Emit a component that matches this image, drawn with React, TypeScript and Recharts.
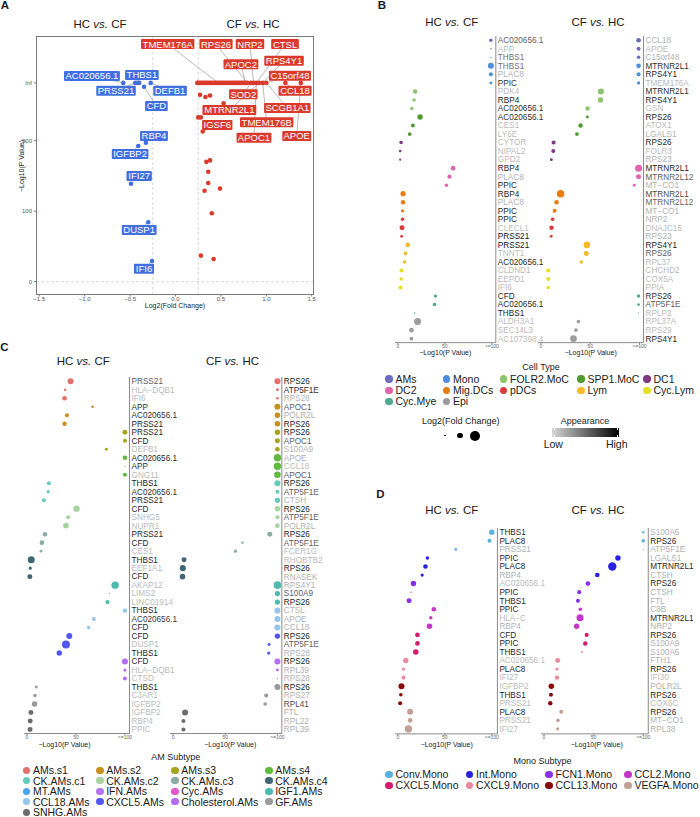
import React from 'react'
import { ScatterChart, Scatter, XAxis, YAxis, ZAxis, Cell, ReferenceLine } from 'recharts'

const FONT = '"Liberation Sans", Arial, Helvetica, sans-serif'
const I = Infinity

// ---------- Panel A: volcano ----------
const A_BLUE_FC = [-0.575, -0.443, -0.42, -0.4, -0.273, -0.347, -0.326, -0.41, -0.49, -0.3, -0.259]
const A_BLUE_P = [I, I, I, I, I, 276.6, 197.2, 192.5, 139, 84.3, 29.4]

const A_RED_FC = [
  0.24, 0.25, 0.27, 0.29, 0.31, 0.33, 0.35, 0.37, 0.39, 0.41, 0.43, 0.45, 0.47, 0.49, 0.51, 0.53, 0.55, 0.57,
  0.59, 0.61, 0.63, 0.65, 0.67, 0.69, 0.71, 0.73, 0.75, 0.77, 0.79, 0.83, 0.86, 0.89, 0.92, 0.96, 1.0, 1.21, 1.38,
  0.27, 0.33, 0.38, 0.53, 0.25, 0.28, 0.3, 0.34, 0.38, 0.36, 0.36, 0.32, 0.49, 0.4, 0.28, 0.42,
]
const A_RED_P = [
  I, I, I, I, I, I, I, I, I, I, I, I, I, I, I, I, I, I, I, I, I, I, I, I, I, I, I, I, I, I, I, I, I, I, I, I, I,
  265, 262, 264, 253, 233, 233, 213, 170, 172, 156, 140, 129, 132, 97, 37, 32,
]

// gene, side, index of the point it tags, label position (data units)
const A_LABELS: [string, 'b' | 'r', number, number, number][] = [
  ['AC020656.1', 'b', 0, -0.92, 291.8],
  ['THBS1', 'b', 2, -0.37, 293.2],
  ['PRSS21', 'b', 1, -0.655, 270.9],
  ['DEFB1', 'b', 4, -0.06, 270.9],
  ['CFD', 'b', 5, -0.21, 249.2],
  ['RBP4', 'b', 6, -0.237, 206.7],
  ['IGFBP2', 'b', 7, -0.5, 181],
  ['IFI27', 'b', 8, -0.4, 150],
  ['DUSP1', 'b', 9, -0.4, 73.3],
  ['IFI6', 'b', 10, -0.347, 18.4],
  ['TMEM176A', 'r', 12, -0.086, 337],
  ['RPS26', 'r', 28, 0.446, 337],
  ['NRP2', 'r', 30, 0.82, 337],
  ['CTSL', 'r', 31, 1.206, 337],
  ['APOC2', 'r', 27, 0.72, 308.5],
  ['RPS4Y1', 'r', 33, 1.195, 313.5],
  ['C15orf48', 'r', 34, 1.26, 292.2],
  ['SOD2', 'r', 29, 0.747, 265.8],
  ['CCL18', 'r', 35, 1.316, 270.9],
  ['MTRNR2L1', 'r', 32, 0.593, 243.5],
  ['SCGB1A1', 'r', 34, 1.231, 246.4],
  ['IGSF6', 'r', 43, 0.46, 222.3],
  ['TMEM176B', 'r', 33, 1.004, 226],
  ['APOC1', 'r', 31, 0.864, 204.3],
  ['APOE', 'r', 36, 1.335, 206.7],
]

// ---------- Panel B: cell types ----------
const B_TYPES = ['AMs', 'Mono', 'FOLR2.MoC', 'SPP1.MoC', 'DC1', 'DC2', 'Mig.DCs', 'pDCs', 'Lym', 'Cyc.Lym', 'Cyc.Mye', 'Epi']
const B_COLORS = ['#6b6cc0', '#4d8fdb', '#8dc56c', '#4e9a2f', '#7d3a7e', '#e063b0', '#e57d14', '#d83c3c', '#f3bb2a', '#e4df22', '#4fa98c', '#9c9c9c']

const B_HC_GENES = ['AC020656.1', 'APP', 'THBS1', 'THBS1', 'PLAC8', 'PPIC', 'PDK4', 'RBP4', 'AC020656.1', 'AC020656.1', 'CES1', 'LY6E', 'CYTOR', 'NIPAL2', 'GPD2', 'RBP4', 'PLAC8', 'PPIC', 'RBP4', 'PLAC8', 'PPIC', 'PPIC', 'CLECL1', 'PRSS21', 'PRSS21', 'TNNT1', 'AC020656.1', 'CLDND1', 'EEPD1', 'IFI6', 'CFD', 'AC020656.1', 'THBS1', 'ALDH3A1', 'SEC14L3', 'AC107398.4']
const B_HC_P = [99, 99, 99, 99, 99, 99, 18.4, 17.3, 14.9, 23.7, 16, 12.7, 3.5, 2.5, 2.5, 58.8, 55, 51.7, 5.6, 5.6, 5, 5, 4.5, 4, 10.6, 8.2, 7.2, 3.9, 3.6, 2.8, 40, 39, 18, 21, 14.5, 14.5]
const B_HC_FC = [0.43, 0.26, 0.26, 0.86, 0.51, 0.38, 0.57, 0.43, 0.43, 0.74, 0.48, 0.48, 0.45, 0.35, 0.3, 0.6, 0.53, 0.43, 0.7, 0.6, 0.41, 0.43, 0.66, 0.38, 0.6, 0.48, 0.43, 0.51, 0.43, 0.51, 0.41, 0.45, 0.27, 1.08, 0.6, 0.48]
const B_HC_APP = [0.6, 0.1, 0.5, 0.5, 0.15, 0.85, 0.1, 0.9, 0.85, 0.85, 0.1, 0.1, 0.1, 0.1, 0.1, 0.9, 0.15, 0.9, 0.9, 0.15, 0.9, 0.9, 0.1, 1, 1, 0.1, 0.9, 0.1, 0.1, 0.1, 0.9, 0.9, 0.9, 0.1, 0.1, 0.1]

const B_CF_GENES = ['CCL18', 'APOE', 'C15orf48', 'MTRNR2L1', 'RPS4Y1', 'TMEM176A', 'MTRNR2L1', 'RPS4Y1', 'GSN', 'RPS26', 'ATOX1', 'LGALS1', 'RPS26', 'FOLR3', 'RPS23', 'MTRNR2L1', 'MTRNR2L12', 'MT\u2212CO1', 'MTRNR2L1', 'MTRNR2L12', 'MT\u2212CO1', 'NRP2', 'DNAJC15', 'RPS23', 'RPS4Y1', 'RPS26', 'RPL37', 'CHCHD2', 'COX5A', 'PPIA', 'RPS26', 'ATP5F1E', 'RPLP2', 'RPL37A', 'RPS29', 'RPS4Y1']
const B_CF_P = [99, 99, 99, 99, 99, 99, 60.8, 60.5, 47.3, 47, 40.2, 36.5, 12.8, 12.5, 10.5, 99, 99, 94.6, 19.9, 15.8, 13.8, 11.8, 10.7, 10.4, 46.6, 46, 40.9, 7.4, 7.4, 7.4, 99, 99, 99, 38, 35.5, 33]
const B_CF_FC = [0.6, 0.51, 0.45, 0.6, 0.51, 0.41, 0.86, 0.7, 0.57, 0.38, 0.57, 0.48, 0.51, 0.51, 0.38, 1.08, 0.66, 0.38, 1.23, 0.6, 0.51, 0.45, 0.57, 0.38, 0.99, 0.66, 0.43, 0.51, 0.51, 0.45, 0.43, 0.36, 0.25, 0.45, 0.45, 0.99]
const B_CF_APP = [0.15, 0.1, 0.15, 0.85, 0.9, 0.1, 0.85, 0.9, 0.1, 0.9, 0.1, 0.15, 0.9, 0.1, 0.15, 0.9, 0.6, 0.15, 0.7, 0.55, 0.15, 0.15, 0.1, 0.15, 0.95, 0.6, 0.1, 0.1, 0.1, 0.1, 0.85, 0.6, 0.1, 0.1, 0.1, 0.9]

// ---------- Panel C: AM subtypes ----------
const C_LEGEND = ['AMs.s1', 'AMs.s2', 'AMs.s3', 'AMs.s4', 'CK.AMs.c1', 'CK.AMs.c2', 'CK.AMs.c3', 'CK.AMs.c4', 'MT.AMs', 'IFN.AMs', 'Cyc.AMs', 'IGF1.AMs', 'CCL18.AMs', 'CXCL5.AMs', 'Cholesterol.AMs', 'GF.AMs', 'SNHG.AMs']
const C_LEGEND_COLORS = ['#e3706b', '#c8911e', '#a7a51d', '#5fba3d', '#66ccba', '#a6d3a0', '#88aca3', '#3f6674', '#4ea3f0', '#b473f0', '#e356c8', '#4fbab0', '#93c6ea', '#5357f0', '#b56df2', '#9a9a9a', '#6b6b6b']
const C_GROUPS = ['AMs.s1', 'AMs.s2', 'AMs.s3', 'AMs.s4', 'CK.AMs.c1', 'CK.AMs.c2', 'CK.AMs.c3', 'CK.AMs.c4', 'IGF1.AMs', 'CCL18.AMs', 'CXCL5.AMs', 'Cholesterol.AMs', 'GF.AMs', 'SNHG.AMs']

const C_HC_GENES = ['PRSS21', 'HLA\u2212DQB1', 'IFI6', 'APP', 'AC020656.1', 'PRSS21', 'PRSS21', 'CFD', 'DEFB1', 'AC020656.1', 'APP', 'GNG11', 'THBS1', 'AC020656.1', 'PRSS21', 'CFD', 'SNHG5', 'NUPR1', 'PRSS21', 'CFD', 'CES1', 'THBS1', 'EEF1A1', 'CFD', 'AKAP12', 'LIMS2', 'LINC01914', 'THBS1', 'AC020656.1', 'CFD', 'CFD', 'DUSP1', 'THBS1', 'CFD', 'HLA\u2212DQB1', 'CTSD', 'THBS1', 'C3AR1', 'IGFBP2', 'IGFBP2', 'RBP4', 'PPIC']
const C_HC_P = [44.5, 39, 38.4, 67, 40.8, 38.4, 100, 100, 81, 100, 100, 100, 22.4, 21.7, 17.3, 50.6, 42.1, 39.8, 18.4, 15.3, 14.3, 4.4, 3.4, 3, 90, 84.3, 82.2, 100, 68.3, 62.9, 43.2, 39.8, 33, 100, 100, 100, 9.5, 8.2, 7.8, 4.1, 3.4, 3.2]
const C_HC_FC = [0.86, 0.33, 0.6, 0.35, 0.51, 0.57, 0.66, 0.51, 0.38, 0.6, 0.25, 0.51, 0.51, 0.41, 0.51, 0.94, 0.51, 0.77, 0.57, 0.6, 0.36, 1.08, 0.41, 0.66, 1.18, 0.25, 0.51, 0.57, 0.51, 0.45, 0.86, 1.34, 0.74, 0.86, 0.41, 0.51, 0.38, 0.45, 0.74, 0.66, 0.66, 0.66]
const C_HC_APP = [0.6, 0.1, 0.1, 0.85, 0.85, 0.9, 0.9, 0.9, 0.1, 0.9, 0.85, 0.1, 0.9, 0.85, 0.9, 0.9, 0.1, 0.1, 0.9, 0.9, 0.1, 0.9, 0.1, 0.9, 0.1, 0.1, 0.1, 0.9, 0.8, 0.9, 0.9, 0.1, 0.9, 0.9, 0.1, 0.1, 0.9, 0.1, 0.1, 0.1, 0.1, 0.1]

const C_CF_GENES = ['RPS26', 'ATP5F1E', 'RPS28', 'APOC1', 'POLR2L', 'RPS26', 'RPS26', 'APOC1', 'S100A9', 'APOE', 'CCL18', 'APOC1', 'RPS26', 'ATP5F1E', 'CTSH', 'RPS26', 'ATP5F1E', 'POLR2L', 'RPS26', 'ATP5F1E', 'FCER1G', 'RHOBTB2', 'RPS26', 'RNASEK', 'RPS4Y1', 'S100A9', 'RPS26', 'CTSL', 'APOE', 'CCL18', 'RPS26', 'ATP5F1E', 'RPS28', 'RPS26', 'RPL39', 'RPS28', 'RPS26', 'RPS27', 'RPL41', 'FTL', 'RPL22', 'RPL39']
const C_CF_P = [100, 100, 100, 100, 100, 100, 100, 100, 100, 100, 100, 100, 100, 100, 100, 100, 100, 100, 92.7, 66.5, 59.7, 10.5, 9.3, 9, 100, 100, 100, 100, 100, 100, 100, 92, 91.7, 100, 100, 100, 100, 89.2, 88.2, 11.5, 9.9, 9.9]
const C_CF_FC = [0.86, 0.38, 0.35, 0.86, 0.77, 0.77, 0.74, 0.66, 0.6, 1.18, 1.18, 0.99, 0.86, 0.51, 0.74, 0.74, 0.51, 0.6, 0.66, 0.33, 0.41, 0.66, 0.86, 0.77, 1.23, 0.7, 0.7, 0.86, 0.86, 0.86, 0.74, 0.38, 0.41, 0.86, 0.38, 0.25, 0.86, 0.51, 0.45, 0.86, 0.51, 0.51]
const C_CF_APP = [0.95, 0.85, 0.15, 0.6, 0.15, 0.95, 0.95, 0.6, 0.15, 0.15, 0.1, 0.6, 0.95, 0.6, 0.15, 0.95, 0.6, 0.15, 0.95, 0.6, 0.1, 0.1, 0.95, 0.15, 0.15, 0.6, 0.95, 0.15, 0.15, 0.15, 0.95, 0.6, 0.15, 0.95, 0.15, 0.15, 0.95, 0.15, 0.7, 0.15, 0.15, 0.15]

// ---------- Panel D: Mono subtypes ----------
const D_TYPES = ['Conv.Mono', 'Int.Mono', 'FCN1.Mono', 'CCL2.Mono', 'CXCL5.Mono', 'CXCL9.Mono', 'CCL13.Mono', 'VEGFA.Mono']
const D_COLORS = ['#5cb2df', '#2a20df', '#8632e4', '#c435c9', '#d31c6c', '#ea8aa0', '#870b0b', '#c1a096']

const D_HC_GENES = ['THBS1', 'PLAC8', 'PRSS21', 'PPIC', 'PLAC8', 'RBP4', 'AC020656.1', 'PPIC', 'THBS1', 'PPIC', 'HLA\u2212C', 'RBP4', 'CFD', 'PPIC', 'THBS1', 'AC020656.1', 'PLAC8', 'IFI27', 'IGFBP2', 'THBS1', 'PRSS21', 'PLAC8', 'PRSS21', 'IFI27']
const D_HC_P = [100, 97.5, 61.7, 31.5, 29.4, 25.9, 16.6, 14.1, 12, 38.3, 35.1, 33.7, 20.9, 20.9, 19.1, 8.5, 6, 6, 3.9, 3.2, 2.5, 13.1, 13.1, 11.3]
const D_HC_FC = [0.74, 0.51, 0.38, 0.43, 0.6, 0.41, 0.74, 0.26, 0.66, 0.6, 0.43, 0.77, 0.6, 0.6, 0.77, 0.74, 0.41, 0.51, 0.86, 0.45, 0.51, 0.86, 0.6, 1.18]
const D_HC_APP = [0.9, 0.9, 0.15, 0.9, 0.9, 0.15, 0.1, 0.9, 0.9, 0.9, 0.1, 0.15, 0.9, 0.9, 0.9, 0.1, 0.9, 0.1, 0.1, 0.9, 0.1, 0.9, 0.1, 0.1]

const D_CF_GENES = ['S100A6', 'RPS26', 'ATP5F1E', 'LGALS1', 'MTRNR2L1', 'CTSH', 'RPS26', 'CTSH', 'FTL', 'C8B', 'MTRNR2L1', 'NRP2', 'RPS26', 'S100A9', 'S100A6', 'FTH1', 'RPS26', 'IFI30', 'POLR2L', 'RPS26', 'COX6C', 'RPS26', 'MT\u2212CO1', 'RPL38']
const D_CF_P = [100, 100, 100, 74.5, 68.8, 53.7, 44.3, 35.5, 34.2, 36.6, 36.3, 32.9, 43, 41.6, 38.3, 13.8, 13.1, 13.1, 7.4, 7, 6.3, 17.4, 14.1, 13.8]
const D_CF_FC = [0.33, 0.45, 0.25, 0.74, 1.46, 0.6, 0.6, 0.51, 0.51, 0.45, 1.08, 0.74, 0.51, 0.57, 0.27, 0.66, 0.41, 0.57, 0.77, 0.51, 0.57, 0.51, 0.45, 0.41]
const D_CF_APP = [0.15, 0.9, 0.15, 0.15, 0.9, 0.15, 0.9, 0.15, 0.15, 0.15, 0.9, 0.15, 0.9, 0.15, 0.15, 0.15, 0.9, 0.1, 0.15, 0.9, 0.1, 0.9, 0.15, 0.15]

// ---------- helpers ----------
const A_INF_Y = 282 // row where ggplot put the Inf p-values
const toY = (p: number) => (Number.isFinite(p) ? p : A_INF_Y)
const BLUE = '#416fe0'
const RED = '#d93a2c'

function grey(a: number) {
  const v = Math.round(205 - a * 185)
  return `rgb(${v},${v},${v})`
}

function textW(s: string, fs: number) {
  let w = 0
  for (const ch of s) {
    if (/[0-9]/.test(ch)) w += 0.556
    else if (ch === '.') w += 0.278
    else if ('MW'.includes(ch)) w += 0.85
    else if ('IJ'.includes(ch)) w += 0.32
    else if ('CDHNRUGOQ'.includes(ch)) w += 0.73
    else if ('FTLZ'.includes(ch)) w += 0.6
    else if (/[A-Z]/.test(ch)) w += 0.667
    else if ('fr'.includes(ch)) w += 0.3
    else if ('il'.includes(ch)) w += 0.222
    else w += 0.556
  }
  return w * fs
}

function Txt({ x, y, size, children, anchor = 'middle', color = '#1a1a1a', bold = false, rotate = 0 }: any) {
  const tx = anchor === 'middle' ? '-50%' : anchor === 'end' ? '-100%' : '0'
  return (
    <div
      style={{
        position: 'absolute', left: x, top: y, fontSize: size, color, lineHeight: 1, whiteSpace: 'nowrap',
        fontWeight: bold ? 700 : 400,
        transform: `translate(${tx}, -50%)` + (rotate ? ` rotate(${rotate}deg)` : ''),
        transformOrigin: rotate ? '50% 50%' : undefined,
      }}
    >
      {children}
    </div>
  )
}

const Vs = ({ a, b }: { a: string; b: string }) => (
  <>
    {a} <i>vs.</i> {b}
  </>
)

function LegendDot({ x, y, color, label, r = 3.7, size = 10.5, gap = 6.5 }: any) {
  return (
    <>
      <div style={{ position: 'absolute', left: x - r, top: y - r, width: 2 * r, height: 2 * r, borderRadius: '50%', background: color }} />
      <Txt x={x + gap} y={y} size={size} anchor="start">{label}</Txt>
    </>
  )
}

function LabelBox(props: any) {
  const { cx, cy, payload } = props
  if (cx == null) return <g />
  const fs = 9.5
  const w = textW(payload.text, fs) + 3
  return (
    <g>
      <rect x={cx - w / 2} y={cy - 5} width={w} height={10} rx={1} fill={payload.side === 'b' ? BLUE : RED} />
      <text x={cx} y={cy} dy="0.36em" textAnchor="middle" fontSize={fs} fill="#fff" fontFamily={FONT}>
        {payload.text}
      </text>
    </g>
  )
}

const Nothing = () => <g />
const VolcanoDot = (color: string) => (p: any) => <circle cx={p.cx} cy={p.cy} r={2.3} fill={color} />

function Volcano() {
  const blue = A_BLUE_FC.map((x, i) => ({ x, y: toY(A_BLUE_P[i]) }))
  const red = A_RED_FC.map((x, i) => ({ x, y: toY(A_RED_P[i]) }))
  const labels = A_LABELS.map(([text, side, , lx, ly]) => ({ x: lx, y: ly, text, side }))
  const fmt = (v: number) => (v < 0 ? '\u2212' + Math.abs(v).toFixed(1) : v.toFixed(1))
  return (
    <div style={{ position: 'absolute', left: 0, top: 0 }}>
      <ScatterChart width={330} height={320} margin={{ top: 36, left: 14, right: 16, bottom: 13 }}>
        <XAxis type="number" dataKey="x" domain={[-1.536, 1.525]} allowDataOverflow ticks={[-1.5, -1, -0.5, 0, 0.5, 1, 1.5]}
          tickFormatter={fmt} tick={{ fontSize: 6, fill: '#555' }} tickSize={1.5} tickMargin={0.5} height={12}
          axisLine={false} tickLine={{ stroke: '#777' }} />
        <YAxis type="number" dataKey="y" domain={[-18.9, 348.5]} allowDataOverflow ticks={[0, 100, 200, A_INF_Y]}
          tickFormatter={(v: number) => (v === A_INF_Y ? 'Inf' : String(v))} tick={{ fontSize: 6, fill: '#555' }}
          tickSize={2} tickMargin={2} width={22} axisLine={false} tickLine={{ stroke: '#777' }} />
        <ReferenceLine x={-0.25} stroke="#cfcfcf" strokeDasharray="3 2" strokeWidth={0.8} />
        <ReferenceLine x={0.25} stroke="#cfcfcf" strokeDasharray="3 2" strokeWidth={0.8} />
        <ReferenceLine y={0} stroke="#cfcfcf" strokeDasharray="3 2" strokeWidth={0.8} />
        {A_LABELS.map(([text, side, at, lx, ly], i) => {
          const px = side === 'b' ? A_BLUE_FC[at] : A_RED_FC[at]
          const py = toY(side === 'b' ? A_BLUE_P[at] : A_RED_P[at])
          return (
            <Scatter key={'c' + i} data={[{ x: px, y: py }, { x: lx, y: ly }]} line={{ stroke: '#a8a8a8', strokeWidth: 0.8 }}
              lineType="joint" shape={Nothing} isAnimationActive={false} />
          )
        })}
        <Scatter data={blue} fill={BLUE} shape={VolcanoDot(BLUE)} isAnimationActive={false} />
        <Scatter data={red} fill={RED} shape={VolcanoDot(RED)} isAnimationActive={false} />
        <Scatter data={labels} shape={LabelBox} isAnimationActive={false} />
      </ScatterChart>
      <div style={{ position: 'absolute', left: 36, top: 36, width: 278, height: 259, border: '1px solid #7a7a7a', boxSizing: 'border-box', pointerEvents: 'none' }} />
    </div>
  )
}

type Geo = { zero: number; unit: number; axis: number; row1: number; step: number; bottom: number }

function DotPanel({ geo, genes, pvals, fcs, appear, colors }: { geo: Geo; genes: string[]; pvals: number[]; fcs: number[]; appear: number[]; colors: string[] }) {
  const n = genes.length
  const pad = 3
  const left = geo.zero - pad * geo.unit
  const xMax = (geo.axis - geo.zero) / geo.unit
  const top = geo.row1 - geo.step / 2
  const yMax = n + (geo.bottom - (geo.row1 + (n - 1) * geo.step)) / geo.step
  const yW = 70
  const xH = 12
  const m = 2
  const w = geo.axis - left + m + yW
  const h = geo.bottom - top + m + xH
  const rows = genes.map((g, i) => ({ x: pvals[i], y: i + 1, fc: fcs[i], grp: Math.floor(i / 3) }))
  const GeneTick = (p: any) => {
    const i = p.payload.value - 1
    return (
      <text x={p.x} y={p.y} dy="0.35em" fontSize={8.2} fill={grey(appear[i])} fontFamily={FONT}>
        {genes[i]}
      </text>
    )
  }
  return (
    <div style={{ position: 'absolute', left: left - m, top: top - m }}>
      <ScatterChart width={w} height={h} margin={{ top: m, left: m, right: 0, bottom: 0 }}>
        <XAxis type="number" dataKey="x" domain={[-pad, xMax]} allowDataOverflow ticks={[0, 50, 100]}
          tickFormatter={(v: number) => (v === 100 ? '>=100' : String(v))} tick={{ fontSize: 5, fill: '#666' }}
          tickSize={1.5} tickMargin={0.5} height={xH} axisLine={{ stroke: '#8a8a8a' }} tickLine={{ stroke: '#8a8a8a' }} />
        <YAxis type="number" dataKey="y" orientation="right" reversed domain={[0.5, yMax]} allowDataOverflow
          ticks={rows.map((r) => r.y)} interval={0} width={yW} tickSize={0} tickMargin={2}
          axisLine={{ stroke: '#8a8a8a' }} tickLine={false} tick={GeneTick} />
        <ZAxis type="number" dataKey="fc" domain={[0.25, 2]} range={[1, 80]} />
        <Scatter data={rows} isAnimationActive={false}>
          {rows.map((r, i) => (
            <Cell key={i} fill={colors[r.grp]} />
          ))}
        </Scatter>
      </ScatterChart>
    </div>
  )
}

const GEO_B_L: Geo = { zero: 397.7, unit: 0.94, axis: 495.7, row1: 40.3, step: 8.526, bottom: 342.7 }
const GEO_B_R: Geo = { zero: 540.7, unit: 0.986, axis: 643.3, row1: 40.3, step: 8.526, bottom: 342.7 }
const GEO_C_L: Geo = { zero: 26.7, unit: 0.98, axis: 129.3, row1: 381.7, step: 8.495, bottom: 734 }
const GEO_C_R: Geo = { zero: 173, unit: 1.043, axis: 281.7, row1: 381.7, step: 8.495, bottom: 734 }
const GEO_D_L: Geo = { zero: 397.7, unit: 0.94, axis: 497.3, row1: 532.7, step: 8.55, bottom: 734.3 }
const GEO_D_R: Geo = { zero: 544, unit: 0.993, axis: 648.3, row1: 532.7, step: 8.55, bottom: 734.3 }

export default function App() {
  const cColors = C_GROUPS.map((g) => C_LEGEND_COLORS[C_LEGEND.indexOf(g)])
  const bCols = [389, 446.5, 503.5, 581, 647]
  const bRows = [379, 390.2, 401.3]
  const cCols = [26.7, 100, 175, 269]
  const dCols = [389, 469.5, 549, 628]
  const xlab = '\u2212Log10(P Value)'
  return (
    <div style={{ position: 'absolute', left: 0, top: 0, width: 700, height: 817, overflow: 'hidden', background: '#fff', fontFamily: FONT, color: '#1a1a1a' }}>
      {/* panel letters */}
      <Txt x={5} y={6} size={11.5} bold>A</Txt>
      <Txt x={382} y={6} size={11.5} bold>B</Txt>
      <Txt x={4.5} y={348} size={11.5} bold>C</Txt>
      <Txt x={380.5} y={494.5} size={11.5} bold>D</Txt>

      {/* A */}
      <Txt x={100} y={25} size={11.5}><Vs a="HC" b="CF" /></Txt>
      <Txt x={253} y={25} size={11.5}><Vs a="CF" b="HC" /></Txt>
      <Volcano />
      <Txt x={20.7} y={165.5} size={7} rotate={-90}>{xlab}</Txt>
      <Txt x={175} y={305} size={7}>Log2(Fold Change)</Txt>

      {/* B */}
      <Txt x={451.7} y={22.8} size={11.5}><Vs a="HC" b="CF" /></Txt>
      <Txt x={598} y={22.8} size={11.5}><Vs a="CF" b="HC" /></Txt>
      <DotPanel geo={GEO_B_L} genes={B_HC_GENES} pvals={B_HC_P} fcs={B_HC_FC} appear={B_HC_APP} colors={B_COLORS} />
      <DotPanel geo={GEO_B_R} genes={B_CF_GENES} pvals={B_CF_P} fcs={B_CF_FC} appear={B_CF_APP} colors={B_COLORS} />
      <Txt x={445.3} y={352.3} size={7}>{xlab}</Txt>
      <Txt x={590.7} y={352.3} size={7}>{xlab}</Txt>
      <Txt x={541} y={366.7} size={9}>Cell Type</Txt>
      {B_TYPES.map((t, i) => (
        <LegendDot key={t} x={bCols[i % 5]} y={bRows[Math.floor(i / 5)]} color={B_COLORS[i]} label={t} />
      ))}
      <Txt x={460.7} y={421.3} size={9}>Log2(Fold Change)</Txt>
      <div style={{ position: 'absolute', left: 445 - 0.6, top: 435.7 - 0.6, width: 1.2, height: 1.2, borderRadius: '50%', background: '#000' }} />
      <div style={{ position: 'absolute', left: 460 - 2.7, top: 435.7 - 2.7, width: 5.4, height: 5.4, borderRadius: '50%', background: '#000' }} />
      <div style={{ position: 'absolute', left: 475 - 5, top: 435.7 - 5, width: 10, height: 10, borderRadius: '50%', background: '#000' }} />
      <Txt x={585} y={421} size={9}>Appearance</Txt>
      <div style={{ position: 'absolute', left: 551.7, top: 428.3, width: 67.6, height: 8.4, background: 'linear-gradient(to right, #d6d6d6, #000)' }} />
      <div style={{ position: 'absolute', left: 553.5, top: 428.3, width: 0.8, height: 1.8, background: '#fff' }} />
      <div style={{ position: 'absolute', left: 553.5, top: 434.9, width: 0.8, height: 1.8, background: '#fff' }} />
      <div style={{ position: 'absolute', left: 616.8, top: 428.3, width: 0.8, height: 1.8, background: '#fff' }} />
      <div style={{ position: 'absolute', left: 616.8, top: 434.9, width: 0.8, height: 1.8, background: '#fff' }} />
      <Txt x={553.3} y={443.8} size={10.5}>Low</Txt>
      <Txt x={616.7} y={443.8} size={10.5}>High</Txt>

      {/* C */}
      <Txt x={83.3} y={362.3} size={11.5}><Vs a="HC" b="CF" /></Txt>
      <Txt x={232.5} y={362.3} size={11.5}><Vs a="CF" b="HC" /></Txt>
      <DotPanel geo={GEO_C_L} genes={C_HC_GENES} pvals={C_HC_P} fcs={C_HC_FC} appear={C_HC_APP} colors={cColors} />
      <DotPanel geo={GEO_C_R} genes={C_CF_GENES} pvals={C_CF_P} fcs={C_CF_FC} appear={C_CF_APP} colors={cColors} />
      <Txt x={64.5} y={744} size={7}>{xlab}</Txt>
      <Txt x={230.3} y={744} size={7}>{xlab}</Txt>
      <Txt x={175.8} y={756.7} size={9}>AM Subtype</Txt>
      {C_LEGEND.map((t, i) => (
        <LegendDot key={t} x={cCols[i % 4]} y={770.3 + Math.floor(i / 4) * 10.5} color={C_LEGEND_COLORS[i]} label={t} gap={6.2} />
      ))}

      {/* D */}
      <Txt x={451.7} y={510.5} size={11.5}><Vs a="HC" b="CF" /></Txt>
      <Txt x={598} y={510.5} size={11.5}><Vs a="CF" b="HC" /></Txt>
      <DotPanel geo={GEO_D_L} genes={D_HC_GENES} pvals={D_HC_P} fcs={D_HC_FC} appear={D_HC_APP} colors={D_COLORS} />
      <DotPanel geo={GEO_D_R} genes={D_CF_GENES} pvals={D_CF_P} fcs={D_CF_FC} appear={D_CF_APP} colors={D_COLORS} />
      <Txt x={446.7} y={744.3} size={7}>{xlab}</Txt>
      <Txt x={596.7} y={744.3} size={7}>{xlab}</Txt>
      <Txt x={542.5} y={760.7} size={9}>Mono Subtype</Txt>
      {D_TYPES.map((t, i) => (
        <LegendDot key={t} x={dCols[i % 4]} y={774.3 + Math.floor(i / 4) * 11} color={D_COLORS[i]} label={t} />
      ))}
    </div>
  )
}
